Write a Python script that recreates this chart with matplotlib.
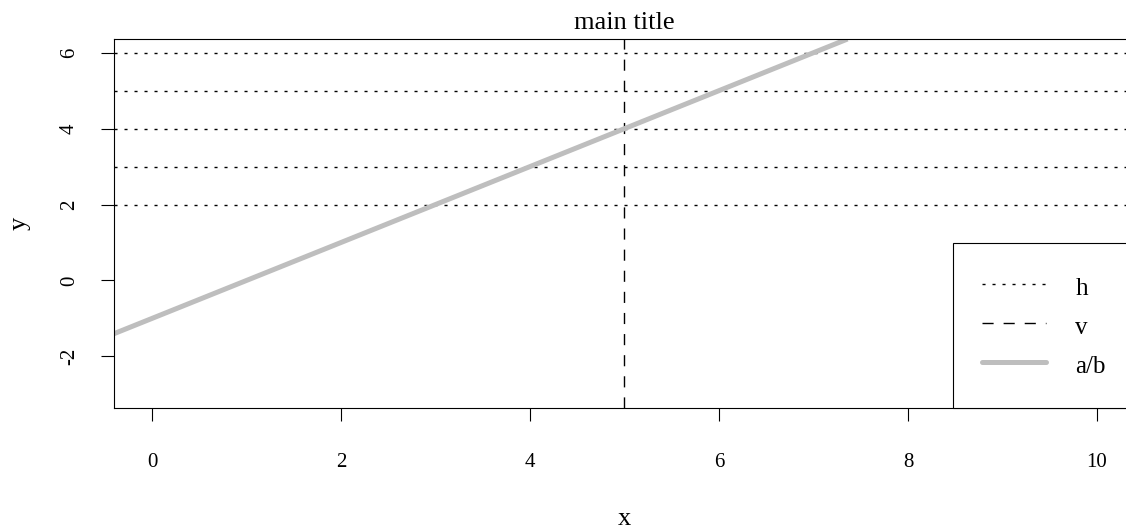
import matplotlib.pyplot as plt
from matplotlib.lines import Line2D

plt.rcParams['font.family'] = ['Liberation Serif', 'DejaVu Serif']
plt.rcParams['axes.unicode_minus'] = False

# data
x_range = [0, 10]
y_range = [-3, 6]
h_values = [2, 3, 4, 5, 6]
v_value = 5
ab_intercept = -1
ab_slope = 1
x_ticks = [0, 2, 4, 6, 8, 10]
y_ticks = [-2, 0, 2, 4, 6]
legend_labels = ['h', 'v', 'a/b']

# R style 4% axis expansion
def expand(r):
    d = (r[1] - r[0]) * 0.04
    return r[0] - d, r[1] + d

dotted = (0, (2.2, 5.0))
dashed = (0, (8.0, 7.2))
gray = '#BEBEBE'

fig = plt.figure(figsize=(11.26, 5.29), dpi=100)
ax = fig.add_axes([0.1014, 0.2287, 0.9064, 0.6975])
ax.set_xlim(*expand(x_range))
ax.set_ylim(*expand(y_range))

for h in h_values:
    ax.axhline(h, color='black', lw=1.0, linestyle=dotted)
ax.axvline(v_value, color='black', lw=1.0, linestyle=dashed)
ax.axline((0, ab_intercept), slope=ab_slope, color=gray, lw=3.6, solid_capstyle='butt')

ax.set_xticks(x_ticks)
ax.set_yticks(y_ticks)
ax.tick_params(axis='both', direction='out', length=9.4, width=0.8, labelsize=15)
ax.tick_params(axis='x', pad=23)
ax.tick_params(axis='y', pad=16)
for lab in ax.get_yticklabels():
    lab.set_rotation(90)
    lab.set_va('center')

for s in ax.spines.values():
    s.set_linewidth(0.8)
    s.set_color('black')

ax.set_title('main title', fontsize=19, pad=7)
ax.set_xlabel('x', fontsize=19)
ax.set_ylabel('y', fontsize=19)
ax.xaxis.set_label_coords(0.5, -0.271)
ax.yaxis.set_label_coords(-0.0815, 0.5)

handles = [
    Line2D([], [], color='black', lw=1.0, linestyle=dotted),
    Line2D([], [], color='black', lw=1.0, linestyle=dashed),
    Line2D([], [], color=gray, lw=3.6, solid_capstyle='round'),
]
leg = ax.legend(handles, legend_labels, loc='lower right', bbox_to_anchor=(1, 0),
                borderaxespad=0, fontsize=18, fancybox=False, framealpha=1,
                edgecolor='black', handlelength=2.57, handletextpad=1.16,
                borderpad=1.16, labelspacing=0.4, handleheight=1.4)
leg.get_frame().set_linewidth(0.8)

fig.savefig('out.png', dpi=100)
